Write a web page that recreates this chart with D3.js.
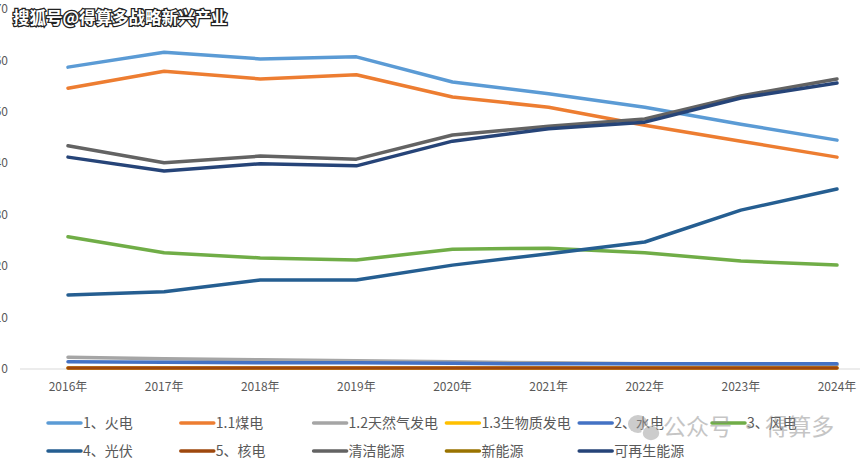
<!DOCTYPE html>
<html>
<head>
<meta charset="utf-8">
<script src="https://cdn.jsdelivr.net/npm/d3@7"></script>
<style>
  body { margin: 0; background: #fff; overflow: hidden; }
  svg { display: block; font-family: "Noto Sans CJK SC", "Liberation Sans", sans-serif; }
</style>
</head>
<body>
<div id="chart"></div>
<script>
// years on the category axis
const years = ['2016年','2017年','2018年','2019年','2020年','2021年','2022年','2023年','2024年'];
const yTicks = [0, 10, 20, 30, 40, 50, 60, 70];

// series values
const fire      = [58.7, 61.6, 60.3, 60.7, 55.8, 53.5, 50.9, 47.6, 44.5];
const coal      = [54.6, 57.9, 56.4, 57.2, 52.9, 50.9, 47.4, 44.3, 41.2];
const gas       = [2.3, 2.0, 1.8, 1.6, 1.4, 1.2, 1.0, 0.9, 0.8];
const biomass   = [0.2, 0.2, 0.2, 0.2, 0.2, 0.2, 0.2, 0.2, 0.2];
const hydro     = [1.4, 1.3, 1.2, 1.2, 1.1, 1.0, 1.0, 1.0, 1.0];
const wind      = [25.7, 22.6, 21.6, 21.2, 23.3, 23.5, 22.6, 21.0, 20.2];
const solar     = [14.4, 15.0, 17.3, 17.3, 20.2, 22.4, 24.7, 30.9, 35.0];
const nuclear   = [0.2, 0.2, 0.2, 0.2, 0.2, 0.2, 0.2, 0.2, 0.2];
const clean     = [43.4, 40.1, 41.4, 40.8, 45.5, 47.2, 48.6, 53.1, 56.4];
const newEnergy = [null, null, null, null, null, null, null, null, null];
const renewable = [41.2, 38.5, 39.9, 39.5, 44.3, 46.7, 48.0, 52.7, 55.6];

const seriesNames = ['1、火电','1.1煤电','1.2天然气发电','1.3生物质发电','2、水电','3、风电',
                     '4、光伏','5、核电','清洁能源','新能源','可再生能源'];
const seriesValues = [fire, coal, gas, biomass, hydro, wind, solar, nuclear, clean, newEnergy, renewable];
const colors = ['#5B9BD5','#ED7D31','#A5A5A5','#FFC000','#4472C4','#70AD47',
                '#255E91','#9E480E','#636363','#997300','#264478'];

const W = 865, H = 461;
const svg = d3.select('#chart').append('svg').attr('width', W).attr('height', H);

const x = d3.scalePoint().domain(years).range([68, 837]);
const y = d3.scaleLinear().domain([0, 70]).range([369, 9]);

// y labels (left edge of the screenshot is cropped, only last digit shows)
svg.append('g').selectAll('text')
  .data(yTicks)
  .enter().append('text')
    .attr('x', 8)
    .attr('y', d => y(d))
    .attr('dy', '0.35em')
    .attr('text-anchor', 'end')
    .attr('font-size', 12)
    .attr('fill', '#595959')
    .text(d => d);

// baseline
svg.append('line')
  .attr('x1', 20).attr('x2', 860)
  .attr('y1', y(0)).attr('y2', y(0))
  .attr('stroke', '#d9d9d9').attr('stroke-width', 1);

// x axis labels
svg.append('g').selectAll('text')
  .data(years)
  .enter().append('text')
    .attr('x', d => x(d))
    .attr('y', 387)
    .attr('dy', '0.35em')
    .attr('text-anchor', 'middle')
    .attr('font-size', 12)
    .attr('fill', '#595959')
    .text(d => d);

// lines
const line = d3.line()
  .defined(d => d != null)
  .x((d, i) => x(years[i]))
  .y(d => y(d));

svg.append('g').selectAll('path')
  .data(seriesValues)
  .enter().append('path')
    .attr('d', d => line(d))
    .attr('fill', 'none')
    .attr('stroke', (d, i) => colors[i])
    .attr('stroke-width', 3.5)
    .attr('stroke-linecap', 'round')
    .attr('stroke-linejoin', 'round');

// legend, 6 per row
const legend = svg.append('g').selectAll('g')
  .data(seriesNames)
  .enter().append('g')
    .attr('transform', (d, i) => `translate(${48 + (i % 6) * 132.8},${i < 6 ? 423 : 451})`);

legend.append('line')
  .attr('x1', 0).attr('x2', 33)
  .attr('stroke', (d, i) => colors[i])
  .attr('stroke-width', 3.5)
  .attr('stroke-linecap', 'round');

legend.append('text')
  .attr('x', 35)
  .attr('dy', '0.35em')
  .attr('font-size', 14)
  .attr('fill', '#595959')
  .text(d => d);

// watermark bottom right
const wm = svg.append('g').attr('opacity', 0.5);
wm.append('ellipse').attr('cx', 638).attr('cy', 424).attr('rx', 10).attr('ry', 9).attr('fill', '#9a9a9a');
wm.append('ellipse').attr('cx', 651).attr('cy', 433).attr('rx', 9).attr('ry', 8).attr('fill', '#9a9a9a').attr('stroke', '#fff').attr('stroke-width', 1.5);
wm.append('text')
  .attr('x', 663).attr('y', 427).attr('dy', '0.35em')
  .attr('font-size', 23)
  .attr('fill', '#8c8c8c')
  .text('公众号 · 得算多');

// watermark top left
svg.append('text')
  .attr('x', 13).attr('y', 18).attr('dy', '0.35em')
  .attr('font-size', 16.5)
  .attr('font-weight', 'bold')
  .attr('fill', '#fff')
  .attr('stroke', '#222')
  .attr('stroke-width', 2.5)
  .attr('paint-order', 'stroke')
  .text('搜狐号@得算多战略新兴产业');
</script>
</body>
</html>
